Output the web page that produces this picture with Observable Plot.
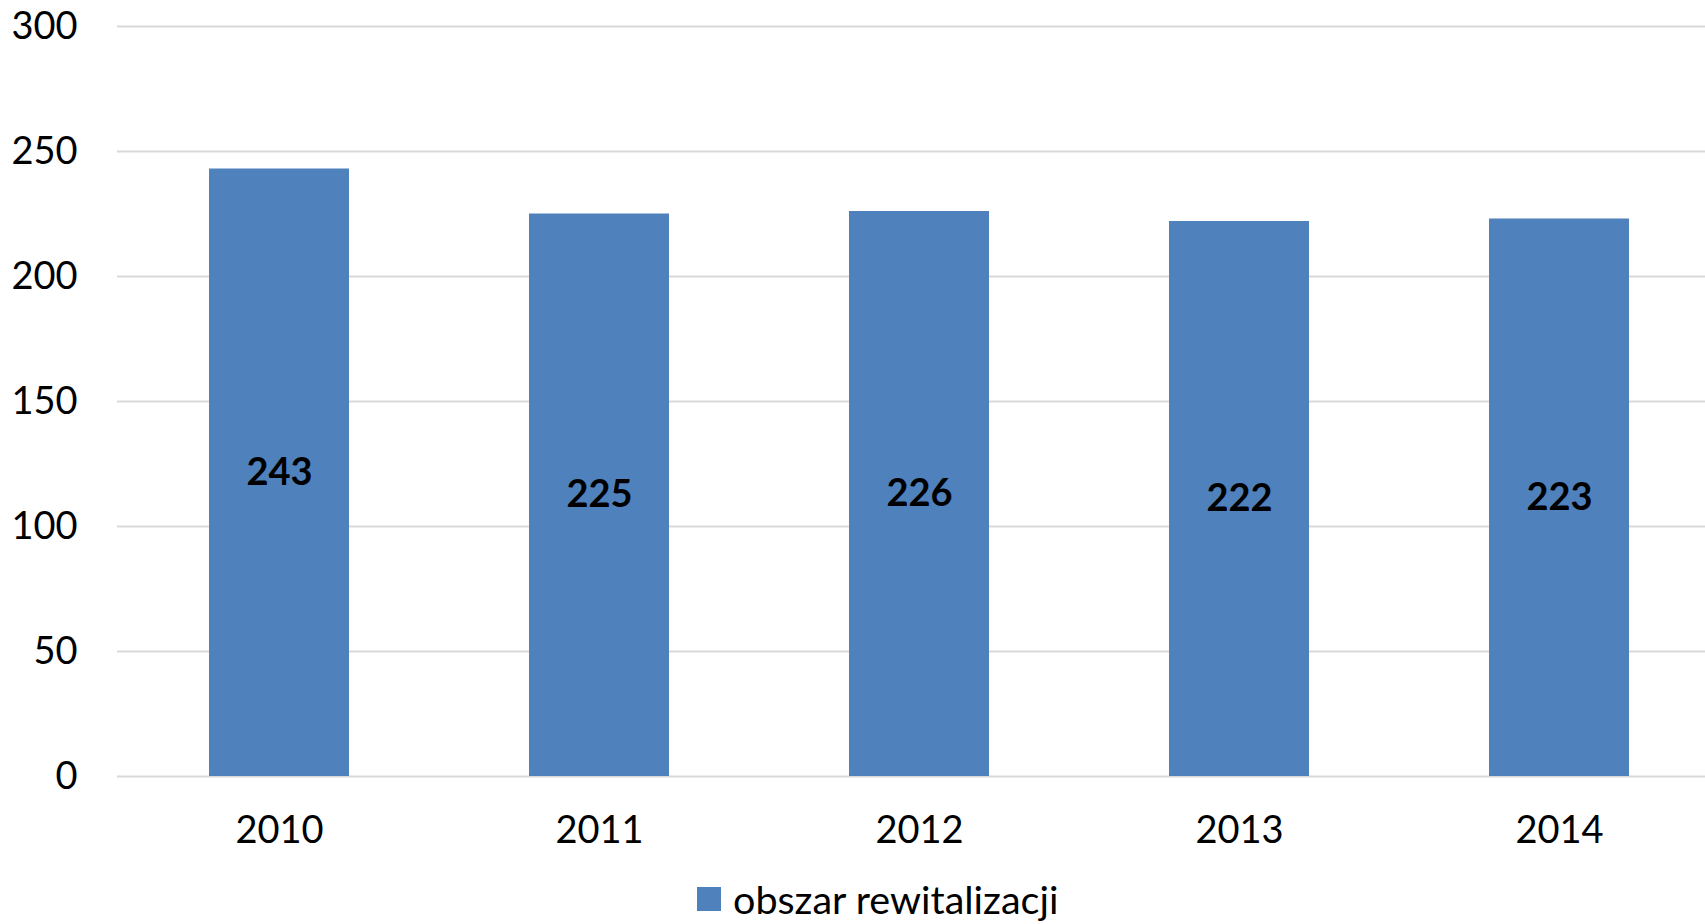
<!DOCTYPE html>
<html>
<head>
<meta charset="utf-8">
<script src="https://cdn.jsdelivr.net/npm/d3@7"></script>
<script src="https://cdn.jsdelivr.net/npm/@observablehq/plot@0.6"></script>
<style>
  html, body { margin: 0; padding: 0; background: #fff; }
  #wrap { position: relative; width: 1705px; height: 924px; overflow: hidden; font-family: Lato, "Open Sans", sans-serif; }
  #legend { position: absolute; left: 697px; top: 877px; display: flex; align-items: center; font-size: 39.5px; line-height: 1.1; color: #000; }
  #legend .sw { width: 24px; height: 24px; background: #4F81BD; margin-right: 12px; }
</style>
</head>
<body>
<div id="wrap"></div>
<script>
const years = ["2010", "2011", "2012", "2013", "2014"];
const values = [243, 225, 226, 222, 223];
const yTicks = [0, 50, 100, 150, 200, 250, 300];
const seriesName = "obszar rewitalizacji";
const barColor = "#4F81BD";

const data = years.map((year, i) => ({year, value: values[i]}));

const chart = Plot.plot({
  width: 1705,
  height: 870,
  marginLeft: 117,
  marginRight: -15,
  marginTop: 26,
  marginBottom: 94,
  style: {fontFamily: "Lato, 'Open Sans', sans-serif", fontSize: "38px", color: "#000", background: "#fff"},
  x: {domain: years, paddingInner: 0.563, paddingOuter: 0.2815, label: null},
  y: {domain: [0, 300], label: null},
  marks: [
    Plot.ruleY(yTicks, {stroke: "#d9d9d9", strokeWidth: 2}),
    Plot.barY(data, {x: "year", y: "value", fill: barColor}),
    Plot.text(data, {x: "year", y: d => d.value / 2, text: d => String(d.value), fontSize: 38, fontWeight: "bold", fill: "#000"}),
    Plot.axisY({ticks: yTicks, tickSize: 0, tickPadding: 40, label: null, fontSize: 38}),
    Plot.axisX({tickSize: 0, tickPadding: 40, label: null, fontSize: 38})
  ]
});
const wrap = document.getElementById("wrap");
wrap.appendChild(chart);
const legend = document.createElement("div");
legend.id = "legend";
legend.innerHTML = `<div class="sw"></div><span>${seriesName}</span>`;
wrap.appendChild(legend);
</script>
</body>
</html>
